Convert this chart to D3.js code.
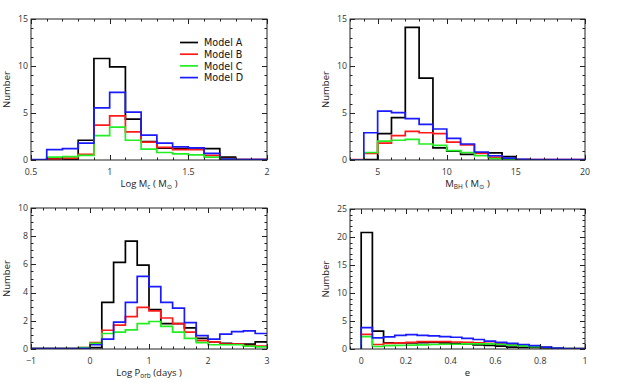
<!DOCTYPE html>
<html><head><meta charset="utf-8">
<script src="https://cdn.jsdelivr.net/npm/d3@7"></script>
<style>
body{margin:0;background:#fff;}
svg text{font-family:"Open Sans","DejaVu Sans",sans-serif;}
svg text.leg{font-family:"DejaVu Sans",sans-serif;}
</style></head>
<body>
<svg id="c" width="623" height="383"></svg>
<script>
const models = ["Model A","Model B","Model C","Model D"];
const colors = ["#000000","#ff1a1a","#22ee22","#1a1aff"];

// Panel 1: Log Mc, bins of 0.1 from 0.5 to 2.0
const mcStart = 0.5, mcWidth = 0.1;
const mcA = [0,0.15,0.1,2.1,10.8,9.9,4.35,1.95,1.25,1.2,1.3,1.2,0.3,0.05,0.05];
const mcB = [0,0.1,0.2,0.6,3.7,4.7,3.0,1.9,1.35,1.1,1.1,0.5,0.15,0.05,0.05];
const mcC = [0,0.3,0.35,0.5,2.6,3.5,2.1,1.15,0.8,0.65,0.55,0.3,0.1,0.02,0.02];
const mcD = [0.05,1.1,1.2,1.8,5.55,7.2,5.1,2.65,1.8,1.4,1.3,0.7,0.1,0.05,0.05];

// Panel 2: M_BH, bins of 1 from 3 to 20
const bhStart = 3, bhWidth = 1;
const bhA = [0,0.05,2.8,4.5,14.1,8.7,1.3,0.95,0.6,0.75,0.75,0.35,0.05,0,0,0,0];
const bhB = [0.05,0.7,1.8,2.6,3.05,2.9,2.8,1.9,1.6,0.7,0.3,0.1,0.03,0.03,0.03,0.03,0.03];
const bhC = [0,0.8,2.0,2.1,2.2,1.7,1.55,1.0,0.8,0.45,0.15,0.05,0.02,0,0,0,0];
const bhD = [0,2.9,5.2,5.05,4.4,3.8,3.3,2.3,1.7,0.85,0.45,0.2,0.08,0.05,0.05,0.05,0.05];

// Panel 3: Log Porb, bins of 0.2 from -1 to 3
const pStart = -1, pWidth = 0.2;
const pA = [0.02,0.02,0.02,0.02,0.05,0.1,3.3,6.15,7.65,5.95,2.8,1.8,1.8,1.5,0.75,0.5,0.4,0.35,0.35,0.5];
const pB = [0.02,0.02,0.02,0.02,0.1,0.45,1.33,1.7,2.3,2.95,2.7,2.2,1.8,1.2,0.6,0.5,0.35,0.35,0.25,0.2];
const pC = [0.02,0.02,0.02,0.02,0.1,0.4,1.1,1.2,1.35,1.8,1.95,1.6,1.2,0.75,0.45,0.3,0.3,0.3,0.2,0.15];
const pD = [0.02,0.02,0.02,0.02,0.05,0.3,0.7,1.9,3.3,5.15,4.43,3.3,2.9,1.87,0.95,0.7,1.05,1.23,1.28,1.1];

// Panel 4: e, bins of 0.05 from 0 to 1
const eStart = 0, eWidth = 0.05;
const eA = [20.8,3.2,1.1,1.1,1.1,1.15,1.2,1.1,1.0,0.9,0.75,0.65,0.5,0.35,0.3,0.3,0.2,0.1,0.03,0.03];
const eB = [2.6,0.8,1.0,1.1,1.2,1.3,1.3,1.3,1.25,1.2,1.1,1.0,0.95,0.85,0.7,0.55,0.35,0.15,0.05,0.05];
const eC = [2.2,0.45,0.6,0.65,0.7,0.75,0.8,0.85,0.85,0.9,0.9,0.9,0.85,0.7,0.55,0.4,0.3,0.15,0.05,0.05];
const eD = [3.8,2.0,2.15,2.45,2.55,2.45,2.35,2.2,2.1,1.9,1.7,1.4,1.2,1.0,0.8,0.6,0.35,0.15,0.05,0.05];

const xTicks1 = [0.5,1,1.5,2], yTicks1 = [0,5,10,15];
const xTicks2 = [5,10,15,20], yTicks2 = [0,5,10,15];
const xTicks3 = [-1,0,1,2,3], yTicks3 = [0,2,4,6,8,10];
const xTicks4 = [0,0.2,0.4,0.6,0.8,1], yTicks4 = [0,5,10,15,20,25];

const svg = d3.select("#c");

const panels = [
  {box:[31,267,19,160], xd:[0.5,2], yd:[0,15], xt:xTicks1, yt:yTicks1, xm:0.1, ym:1,
   start:mcStart, w:mcWidth, series:[mcA,mcB,mcC,mcD], fx:d=>String(d),
   title:[["Log M",""],["c","sub"],[" ( M",""],["⊙","sub"],[" )",""]], legend:true, ylabx:7},
  {box:[350,585,19,160], xd:[3,20], yd:[0,15], xt:xTicks2, yt:yTicks2, xm:1, ym:1,
   start:bhStart, w:bhWidth, series:[bhA,bhB,bhC,bhD], fx:d=>String(d),
   title:[["M",""],["BH","sub"],[" ( M",""],["⊙","sub"],[" )",""]], ylabx:326},
  {box:[31,267,208,349], xd:[-1,3], yd:[0,10], xt:xTicks3, yt:yTicks3, xm:0.2, ym:0.5,
   start:pStart, w:pWidth, series:[pA,pB,pC,pD], fx:d=>d<0?"\u2212"+(-d):String(d),
   title:[["Log P",""],["orb","sub"],[" (days )",""]], ylabx:7},
  {box:[350,585,209,349], xd:[-0.05,1], yd:[0,25], xt:xTicks4, yt:yTicks4, xm:0.05, ym:1,
   start:eStart, w:eWidth, series:[eA,eB,eC,eD], fx:d=>d===0?"0":d===1?"1":d.toFixed(1),
   title:[["e",""]], ylabx:326}
];

panels.forEach(p=>{
  const [x0,x1,y0,y1] = p.box;
  const x = d3.scaleLinear().domain(p.xd).range([x0,x1]);
  const y = d3.scaleLinear().domain(p.yd).range([y1,y0]);
  const g = svg.append("g");
  const clipId = "clip"+x0+"_"+y0;
  svg.append("clipPath").attr("id",clipId).append("rect")
    .attr("x",x0).attr("y",y0-2).attr("width",x1-x0).attr("height",y1-y0+2);

  const line = d3.line().x(d=>x(d[0])).y(d=>y(d[1]));
  p.series.forEach((s,i)=>{
    const stepPts = [[p.start, 0]];
    s.forEach((v,j)=>{stepPts.push([p.start+j*p.w, v]); stepPts.push([p.start+(j+1)*p.w, v]);});
    g.append("path").attr("clip-path","url(#"+clipId+")")
      .attr("d", line(stepPts))
      .attr("fill","none").attr("stroke",colors[i]).attr("stroke-width",1.7)
      .attr("stroke-linejoin","miter");
  });

  g.append("rect").attr("x",x0).attr("y",y0).attr("width",x1-x0).attr("height",y1-y0)
    .attr("fill","none").attr("stroke","#222").attr("stroke-width",1);

  const tk = g.append("g").attr("stroke","#222").attr("stroke-width",1);
  const eps = 1e-9;
  const xMinor = d3.range(Math.ceil(p.xd[0]/p.xm-eps)*p.xm, p.xd[1]+eps, p.xm);
  const yMinor = d3.range(p.yd[0], p.yd[1]+eps, p.ym);
  xMinor.forEach(v=>{
    const X = Math.round(x(v))+0.5;
    tk.append("line").attr("x1",X).attr("x2",X).attr("y1",y1).attr("y2",y1-2.5);
    tk.append("line").attr("x1",X).attr("x2",X).attr("y1",y0).attr("y2",y0+2.5);
  });
  yMinor.forEach(v=>{
    const Y = Math.round(y(v))+0.5;
    tk.append("line").attr("x1",x0).attr("x2",x0+2.5).attr("y1",Y).attr("y2",Y);
    tk.append("line").attr("x1",x1).attr("x2",x1-2.5).attr("y1",Y).attr("y2",Y);
  });
  p.xt.forEach(v=>{
    const X = Math.round(x(v))+0.5;
    tk.append("line").attr("x1",X).attr("x2",X).attr("y1",y1).attr("y2",y1-5);
    tk.append("line").attr("x1",X).attr("x2",X).attr("y1",y0).attr("y2",y0+5);
    g.append("text").attr("x",x(v)).attr("y",y1+14.5).attr("text-anchor","middle")
      .attr("font-size",8.8).attr("fill","#333").text(p.fx(v));
  });
  p.yt.forEach(v=>{
    const Y = Math.round(y(v))+0.5;
    tk.append("line").attr("x1",x0).attr("x2",x0+5).attr("y1",Y).attr("y2",Y);
    tk.append("line").attr("x1",x1).attr("x2",x1-5).attr("y1",Y).attr("y2",Y);
    g.append("text").attr("x",x0-3).attr("y",y(v)+2.8).attr("text-anchor","end")
      .attr("font-size",8.8).attr("fill","#333").text(v);
  });

  const t = g.append("text").attr("x",(x0+x1)/2).attr("y",y1+27).attr("text-anchor","middle")
    .attr("font-size",9.5).attr("fill","#222");
  let prevSub = false;
  p.title.forEach(([s,k])=>{
    const ts = t.append("tspan").text(s);
    if(k==="sub"){ ts.attr("font-size",6.5).attr("dy",2); prevSub = true; }
    else if(prevSub){ ts.attr("dy",-2); prevSub = false; }
  });
  g.append("text").attr("transform","translate("+p.ylabx+","+((y0+y1)/2)+") rotate(-90)")
    .attr("text-anchor","middle").attr("dy","0.35em").attr("font-size",9.5).attr("fill","#222").text("Number");

  if(p.legend){
    const lg = g.append("g");
    models.forEach((m,i)=>{
      const Y = 42.5+i*11.7;
      lg.append("line").attr("x1",180).attr("x2",198).attr("y1",Y).attr("y2",Y)
        .attr("stroke",colors[i]).attr("stroke-width",1.7);
      lg.append("text").attr("class","leg").attr("x",204).attr("y",Y+3.6)
        .attr("font-size",9.6).attr("fill","#111").text(m);
    });
  }
});
</script>
</body></html>
